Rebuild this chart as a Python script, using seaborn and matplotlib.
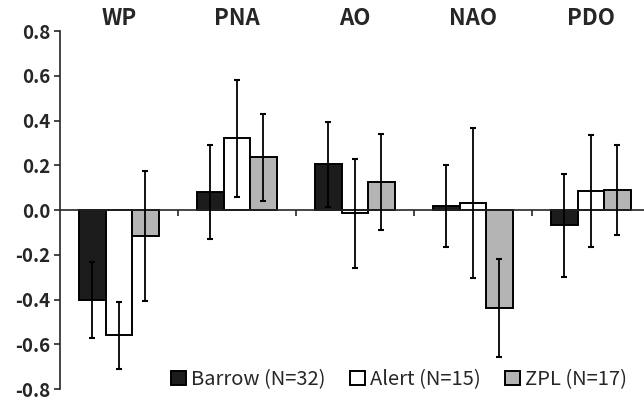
import numpy as np
import pandas as pd
import seaborn as sns
import matplotlib
matplotlib.use('Agg')
import matplotlib.pyplot as plt

indices = ['WP', 'PNA', 'AO', 'NAO', 'PDO']
stations = ['Barrow (N=32)', 'Alert (N=15)', 'ZPL (N=17)']
barrow = [-0.40, 0.08, 0.205, 0.018, -0.068]
alert = [-0.56, 0.32, -0.015, 0.032, 0.086]
zpl = [-0.115, 0.236, 0.125, -0.437, 0.09]
barrow_err = [0.17, 0.209, 0.19, 0.183, 0.23]
alert_err = [0.15, 0.26, 0.245, 0.334, 0.25]
zpl_err = [0.29, 0.195, 0.213, 0.22, 0.20]
yticks = [-0.8, -0.6, -0.4, -0.2, 0.0, 0.2, 0.4, 0.6, 0.8]
colors = ['#1c1c1c', '#ffffff', '#b4b4b4']

sns.set_style('white')
plt.rcParams['font.family'] = ['Noto Sans CJK KR', 'DejaVu Sans']

df = pd.DataFrame({
    'index': indices * 3,
    'station': [s for s in stations for _ in indices],
    'value': barrow + alert + zpl,
})
errs = [barrow_err, alert_err, zpl_err]

fig = plt.figure(figsize=(6.44, 3.99), dpi=100)
ax = fig.add_axes([0.093, 0.025, 0.907, 0.897])
sns.barplot(data=df, x='index', y='value', hue='station', hue_order=stations,
            order=indices, palette=colors, width=0.675, edgecolor='black',
            linewidth=1.4, errorbar=None, ax=ax)

# error bars on the bar centres
for cont, err in zip(ax.containers, errs):
    xs = [p.get_x() + p.get_width() / 2 for p in cont]
    ys = [p.get_height() for p in cont]
    ax.errorbar(xs, ys, yerr=err, fmt='none', ecolor='black', elinewidth=1.3,
                capsize=2, capthick=1.5, zorder=5)

ax.set_ylim(-0.8, 0.8)
ax.set_xlim(-0.5, 4.45)
ax.set_yticks(yticks)
ax.set_yticklabels([f'{v:.1f}' for v in yticks], fontsize=13.5,
                   fontweight='heavy')
ax.tick_params(axis='y', direction='out', length=4, width=1.2, left=True, pad=3)

ax.spines['top'].set_visible(False)
ax.spines['right'].set_visible(False)
ax.spines['left'].set_linewidth(1.2)
ax.spines['bottom'].set_position(('data', 0))
ax.spines['bottom'].set_linewidth(1.2)
ax.set_xticks([0.5, 1.5, 2.5, 3.5])
ax.set_xticklabels([])
ax.tick_params(axis='x', direction='out', length=4, width=1.2, bottom=True)
ax.set_xlabel('')
ax.set_ylabel('')

for i, name in enumerate(indices):
    ax.text(i, 0.805, name, ha='center', va='bottom', fontsize=16,
            fontweight='heavy')

ax.legend(loc='lower right', bbox_to_anchor=(0.985, -0.025), ncol=3,
          frameon=False, fontsize=14.5, handlelength=0.75, handleheight=0.75,
          handletextpad=0.25, columnspacing=1.2, borderaxespad=0)

fig.savefig('out.png', dpi=100)
